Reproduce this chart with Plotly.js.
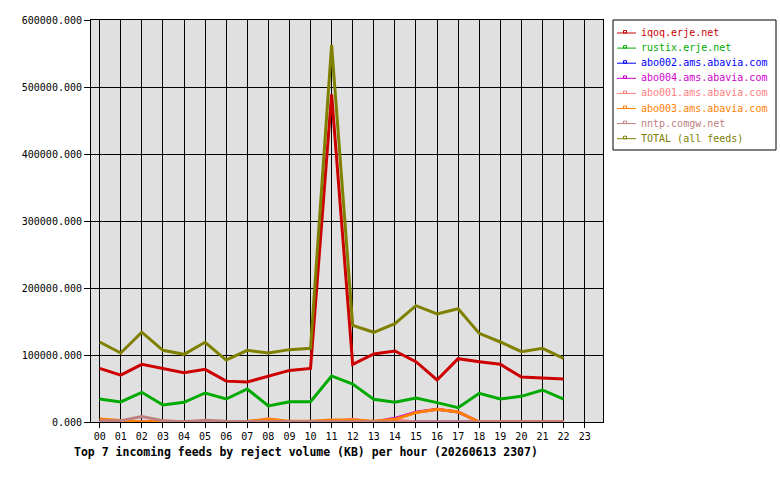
<!DOCTYPE html>
<html>
<head>
<meta charset="utf-8">
<script src="https://cdn.plot.ly/plotly-3.0.1.min.js"></script>
<style>html,body{margin:0;padding:0;background:#fff}#chart{width:780px;height:480px}</style>
</head>
<body>
<div id="chart"></div>
<script>
const hours = ["00","01","02","03","04","05","06","07","08","09","10","11","12","13","14","15","16","17","18","19","20","21","22"];
const allHours = ["00","01","02","03","04","05","06","07","08","09","10","11","12","13","14","15","16","17","18","19","20","21","22","23"];

const iqoq   = [80000,70000,86000,80000,73600,78600,61000,59700,68700,77000,80000,489000,86100,101500,106000,90000,62700,94500,90000,86100,67200,65200,64200];
const rustix = [34300,29900,44300,25400,29400,43300,34300,49300,23900,30300,30300,68700,56700,33800,29400,35800,28900,21400,42800,34300,38300,47800,34300];
const abo002 = [0,0,0,0,0,0,0,0,0,0,0,0,0,0,0,0,0,0,0,0,0,0,0];
const abo004 = [0,0,0,0,0,0,0,0,0,0,0,0,0,0,5500,14500,19000,15000,0,0,0,0,0];
const abo001 = [0,0,0,0,0,0,0,0,5000,0,0,0,4000,0,3000,0,0,0,0,0,0,0,0];
const abo003 = [4500,2000,0,1500,0,0,0,1000,4000,1000,1000,3000,3000,1000,4000,14000,19000,15000,0,0,0,0,0];
const nntp   = [2000,2000,8000,2000,500,2500,1000,1000,1500,500,500,500,500,500,0,0,0,0,0,0,0,0,0];
const total  = [119400,103000,134000,107000,101000,119000,92500,107000,103000,108000,110000,563000,144300,133900,146700,173600,161200,169100,132300,119400,105000,110000,95000];

const names  = ["iqoq.erje.net","rustix.erje.net","abo002.ams.abavia.com","abo004.ams.abavia.com","abo001.ams.abavia.com","abo003.ams.abavia.com","nntp.comgw.net","TOTAL (all feeds)"];
const colors = ["#cc0000","#00aa00","#0000ff","#cc00cc","#ff8080","#ff8000","#c08080","#808000"];
const series = [iqoq, rustix, abo002, abo004, abo001, abo003, nntp, total];

const font = "DejaVu Sans Mono, monospace";
const traces = series.map((vals, i) => ({
  type: "scatter",
  mode: "lines",
  x: hours,
  y: vals,
  name: names[i],
  line: {color: colors[i], width: 3},
  hoverinfo: "skip"
}));

// plot area geometry (pixels) used to place the hand-drawn legend box
const L = 91, R = 603, T = 20, B = 422;
const px = v => (v - L) / (R - L);
const py = v => (B - v) / (B - T);

const shapes = [{
  type: "rect", xref: "paper", yref: "paper",
  x0: px(613), x1: px(776), y0: py(20), y1: py(150),
  line: {color: "#000", width: 1}, fillcolor: "#fff", layer: "above"
}];
const annotations = [];
names.forEach((n, i) => {
  const yc = 32.5 + i * 15.1;
  shapes.push({type: "line", xref: "paper", yref: "paper",
    x0: px(617), x1: px(636), y0: py(yc + 0.5), y1: py(yc + 0.5),
    line: {color: colors[i], width: 1}, layer: "above"});
  shapes.push({type: "rect", xref: "paper", yref: "paper",
    x0: px(623.5), x1: px(626.5), y0: py(yc + 0.5), y1: py(yc - 2),
    line: {color: colors[i], width: 1}, fillcolor: "rgba(0,0,0,0)", layer: "above"});
  annotations.push({
    xref: "paper", yref: "paper", x: px(639), y: py(yc),
    xanchor: "left", yanchor: "middle", showarrow: false,
    text: n, font: {family: font, size: 10, color: colors[i]}
  });
});

const layout = {
  width: 780, height: 480,
  margin: {l: L, r: 780 - R, t: T, b: 480 - B},
  paper_bgcolor: "#ffffff",
  plot_bgcolor: "#e0e0e0",
  font: {family: font, size: 10, color: "#000"},
  title: {
    text: "<b>Top 7 incoming feeds by reject volume (KB) per hour (20260613 2307)</b>",
    font: {family: font, size: 11.5, color: "#000"},
    x: 74/780, xanchor: "left", xref: "container",
    y: 1 - 452/480, yanchor: "middle", yref: "container"
  },
  xaxis: {
    type: "category",
    categoryarray: allHours,
    categoryorder: "array",
    tickvals: allHours,
    ticktext: allHours,
    range: [-0.41, 23.87],
    showgrid: true, gridcolor: "#000", gridwidth: 1,
    ticks: "outside", ticklen: 5, tickcolor: "#000",
    showline: true, linecolor: "#000", linewidth: 1, mirror: true,
    zeroline: false,
    tickfont: {family: font, size: 10}
  },
  yaxis: {
    range: [0, 600000],
    tickvals: [0,100000,200000,300000,400000,500000,600000],
    tickformat: ".3f",
    showgrid: true, gridcolor: "#000", gridwidth: 1,
    ticks: "outside", ticklen: 6, tickcolor: "#000",
    showline: true, linecolor: "#000", linewidth: 1, mirror: true,
    zeroline: false,
    tickfont: {family: font, size: 10}
  },
  showlegend: false,
  shapes: shapes,
  annotations: annotations
};

Plotly.newPlot("chart", traces, layout, {displayModeBar: false, staticPlot: true});
</script>
</body>
</html>
